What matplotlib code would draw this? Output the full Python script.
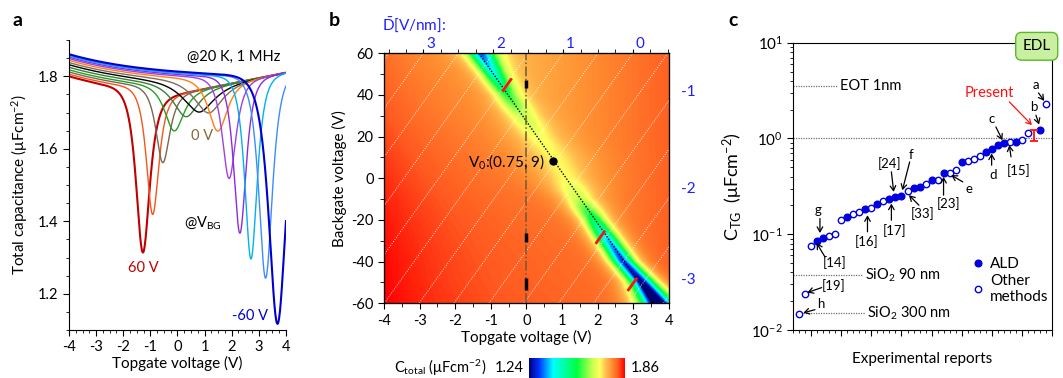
import numpy as np
import matplotlib
matplotlib.use('Agg')
import matplotlib.pyplot as plt
import matplotlib.transforms as mtransforms
from matplotlib.colors import LinearSegmentedColormap
from matplotlib.ticker import MultipleLocator, FixedLocator, NullFormatter, LogLocator
from matplotlib.lines import Line2D

plt.rcParams['font.family'] = ['Lato', 'DejaVu Sans']
plt.rcParams['mathtext.fontset'] = 'custom'
plt.rcParams['mathtext.rm'] = 'Lato'
plt.rcParams['mathtext.it'] = 'Lato:italic'
plt.rcParams['mathtext.bf'] = 'Lato:bold'
plt.rcParams['axes.unicode_minus'] = False

# ---- panel a : C-V curves, one per backgate voltage
vbg = [60, 50, 40, 30, 20, 10, 0, -10, -20, -30, -40, -50, -60]
dip_pos = [-1.28, -0.92, -0.55, -0.15, 0.25, 0.71, 1.08, 1.47, 1.90, 2.30, 2.71, 3.25, 3.69]
dip_min = [1.314, 1.419, 1.562, 1.650, 1.690, 1.703, 1.700, 1.649, 1.518, 1.367, 1.296, 1.243, 1.117]
c_left = [1.800, 1.806, 1.812, 1.818, 1.825, 1.832, 1.838, 1.844, 1.849, 1.853, 1.856, 1.858, 1.861]
dip_width = [0.22, 0.20, 0.22, 0.30, 0.40, 0.50, 0.45, 0.30, 0.22, 0.20, 0.20, 0.22, 0.28]
curve_colors = ['#c00000', '#f2561d', '#7a6652', '#22a022', '#3c7d3c', '#000000', '#7f6f5a',
                '#ff7f0e', '#a040e0', '#8a2be2', '#00b0f0', '#3d8bff', '#0000d0']

# ---- panel b : Dirac point line and marks
v0 = (0.75, 9)
dirac_slope = -24.5
d_slope = 23.9          # constant-D lines
d_top0 = 2.99           # topgate voltage where D=0 meets Vbg=60
d_step = 1.96           # topgate volts per 1 V/nm of D
mark_vt = [-0.545, 2.075, 2.975]
mark_vb = [44.8, -28.35, -51.0]
bar_lo = [43.1, -30.6, -53.8]
bar_hi = [47.0, -26.5, -48.1]
right_lbl_vb = [42.2, -4.3, -48.0]
right_lbl = ['-1', '-2', '-3']

# ---- panel c : capacitance of reports
rep_idx = list(range(0, 39)) + [40, 41]
rep_c = [0.0146, 0.024, 0.0755, 0.0845, 0.0908, 0.0953, 0.100, 0.140, 0.151, 0.162, 0.170,
         0.182, 0.188, 0.209, 0.221, 0.232, 0.242, 0.249, 0.281, 0.307, 0.312, 0.333, 0.372,
         0.372, 0.431, 0.441, 0.474, 0.565, 0.583, 0.608, 0.653, 0.719, 0.773, 0.865, 0.900,
         0.922, 0.922, 0.953, 1.145, 1.24, 2.28]
rep_ald = [0, 0, 0, 1, 1, 0, 0, 0, 1, 0, 0, 1, 0, 1, 0, 1, 1, 1, 0, 1, 1, 0, 1, 0, 1, 0, 0,
           1, 0, 0, 0, 1, 1, 1, 1, 0, 1, 0, 0, 1, 0]
present_idx = 39
present_lo, present_hi = 0.93, 1.24
ref_lines = [(3.52, 'EOT 1nm', -1, 6.4), (0.0373, 'SiO$_2$ 90 nm', -1, 10.6),
             (0.01506, 'SiO$_2$ 300 nm', 0.6, 10.9)]
notes = [
    ('g', (3.05, 0.178), (3.43, 0.146), (3.43, 0.103)),
    ('[14]', (5.92, 0.050), (4.26, 0.058), (2.88, 0.081)),
    ('[16]', (11.18, 0.0845), (11.34, 0.106), (11.34, 0.158)),
    ('[17]', (15.87, 0.108), (15.32, 0.14), (15.32, 0.209)),
    ('[24]', (15.04, 0.548), (15.32, 0.448), (15.7, 0.277)),
    ('f', (18.64, 0.669), (18.36, 0.569), (17.15, 0.288)),
    ('[33]', (20.56, 0.164), (19.9, 0.201), (18.24, 0.256)),
    ('[23]', (24.83, 0.209), (24.0, 0.256), (24.0, 0.397)),
    ('e', (28.31, 0.30), (27.2, 0.352), (25.27, 0.414)),
    ('d', (32.29, 0.414), (32.0, 0.526), (32.0, 0.697)),
    ('[15]', (36.48, 0.467), (35.22, 0.643), (34.94, 0.851)),
    ('c', (32.07, 1.58), (32.7, 1.32), (33.8, 0.96)),
    ('b', (39.09, 2.11), (39.37, 1.75), (39.9, 1.40)),
    ('a', (39.37, 3.61), (39.8, 2.99), (40.75, 2.47)),
    ('[19]', (5.64, 0.0293), (3.71, 0.0277), (1.33, 0.0246)),
    ('h', (3.5, 0.0189), (2.6, 0.0163), (0.66, 0.0151)),
]


def cap_curve(vt, x0, cmin, cl, w):
    # baseline: hole side / electron side joined at the dip, plus a dip of read depth
    right = 1.735 + 0.015 * (vt + 1)
    left = cl - 0.065 * (1 - np.exp(-(vt + 4) / 3))
    s = 1 / (1 + np.exp(-(vt - x0) / 0.12))
    base = left * (1 - s) + right * s
    b0 = (cl - 0.065 * (1 - np.exp(-(x0 + 4) / 3)) + 1.735 + 0.015 * (x0 + 1)) / 2
    return base - (b0 - cmin) / np.cosh((vt - x0) / w)


fig = plt.figure(figsize=(10.63, 3.78), dpi=100)

# ================= panel a
axa = fig.add_axes([0.0649, 0.127, 0.2041, 0.767])
vt = np.linspace(-4, 4, 800)
for i in range(len(vbg)):
    lw = 1.5 if i in (0, len(vbg) - 1) else 1.0
    axa.plot(vt, cap_curve(vt, dip_pos[i], dip_min[i], c_left[i], dip_width[i]),
             color=curve_colors[i], lw=lw)
axa.set_xlim(-4, 4)
axa.set_ylim(1.1, 1.9)
axa.xaxis.set_major_locator(MultipleLocator(1))
axa.xaxis.set_minor_locator(MultipleLocator(0.25))
axa.yaxis.set_major_locator(FixedLocator([1.2, 1.4, 1.6, 1.8]))
axa.yaxis.set_minor_locator(MultipleLocator(0.05))
axa.spines['top'].set_visible(False)
axa.spines['right'].set_visible(False)
axa.tick_params(labelsize=10.5, length=4)
axa.tick_params(which='minor', length=2)
axa.set_xlabel('Topgate voltage (V)', fontsize=11, labelpad=1)
axa.set_ylabel('Total capacitance (μFcm$^{-2}$)', fontsize=11)
axa.yaxis.set_label_coords(-0.18, 0.5)
axa.text(2.06, 1.855, '@20 K, 1 MHz', fontsize=10.5, ha='center', va='center')
axa.text(-1.27, 1.272, '60 V', fontsize=10.5, color='#c00000', ha='center', va='center')
axa.text(2.67, 1.138, '-60 V', fontsize=10.5, color='#0000d0', ha='center', va='center')
axa.text(0.92, 1.635, '0 V', fontsize=10.5, color='#7f6a3a', ha='center', va='center')
axa.text(0.95, 1.397, '@V$_{\\rm BG}$', fontsize=10.5, ha='center', va='center')

# ================= panel b
axb = fig.add_axes([0.3612, 0.198, 0.268, 0.661])
cmap = LinearSegmentedColormap.from_list('ctot', [
    (0.0, '#00007a'), (0.1, '#0030ff'), (0.25, '#00ffff'), (0.5, '#00ff40'),
    (0.66, '#c8ff50'), (0.74, '#ffff60'), (0.8, '#ffc050'), (0.86, '#ff9434'),
    (0.93, '#ff5a20'), (1.0, '#ff0000')])
gx = np.linspace(-4, 4, 500)
gy = np.linspace(-60, 60, 300)
rv = vbg[::-1]
rows = []
for vb in gy:
    rows.append(cap_curve(gx, np.interp(vb, rv, dip_pos[::-1]), np.interp(vb, rv, dip_min[::-1]),
                          np.interp(vb, rv, c_left[::-1]), np.interp(vb, rv, dip_width[::-1])))
axb.imshow(np.array(rows), extent=[-4, 4, -60, 60], origin='lower', aspect='auto',
           cmap=cmap, vmin=1.24, vmax=1.86, interpolation='bilinear')
# constant-D lines every 0.5 V/nm
for k in range(-6, 12):
    top = d_top0 - d_step * 0.5 * k
    axb.plot([top - 120 / d_slope, top], [-60, 60], color='white', ls=(0, (1, 1.5)), lw=0.7, alpha=0.85)
# Dirac line
axb.plot([v0[0] + (60 - v0[1]) / dirac_slope, v0[0] + (-60 - v0[1]) / dirac_slope], [60, -60],
         color='black', ls=(0, (1, 1.2)), lw=1.0)
axb.plot([v0[0]], [v0[1] - 0.5], 'o', color='black', ms=5)
axb.text(0.5, 7.8, 'V$_0$:(0.75, 9)', fontsize=11, ha='right', va='center')
axb.axvline(0, color='#6b5a3a', ls='-.', lw=1.1)
axb.vlines([0] * len(bar_lo), bar_lo, bar_hi, color='black', lw=2.5)
for mx, my in zip(mark_vt, mark_vb):
    axb.plot([mx - 0.11, mx + 0.11], [my - 0.11 * d_slope, my + 0.11 * d_slope], color='#ff1010', lw=2)
axb.set_xlim(-4, 4)
axb.set_ylim(-60, 60)
axb.xaxis.set_major_locator(MultipleLocator(1))
axb.xaxis.set_minor_locator(MultipleLocator(0.5))
axb.yaxis.set_major_locator(MultipleLocator(20))
axb.yaxis.set_minor_locator(MultipleLocator(10))
axb.tick_params(labelsize=10.5, length=4, right=True)
axb.tick_params(which='minor', length=3, right=True)
axb.set_xlabel('Topgate voltage (V)', fontsize=11, labelpad=2)
axb.set_ylabel('Backgate voltage (V)', fontsize=11)
axb.yaxis.set_label_coords(-0.131, 0.5)

axt = axb.twiny()
axt.set_xlim(-4, 4)
axt.set_xticks([d_top0 - d_step * d for d in [3, 2, 1, 0]])
axt.set_xticklabels(['3', '2', '1', '0'], color='#1f1fff', fontsize=11)
axt.xaxis.set_minor_locator(FixedLocator([d_top0 - d_step * 0.25 * k for k in range(-4, 17)]))
axt.tick_params(length=3, pad=0)
axt.tick_params(which='minor', length=3)
shift = mtransforms.ScaledTranslation(0.07, -0.02, fig.dpi_scale_trans)
for lab in axt.get_xticklabels():
    lab.set_transform(lab.get_transform() + shift)

axr = axb.twinx()
axr.set_ylim(-60, 60)
axr.set_yticks(right_lbl_vb)
axr.set_yticklabels(right_lbl, color='#1f1fff', fontsize=11)
axr.tick_params(length=0, pad=9)
fig.text(0.359, 1 - 25 / 378, '$\\bar{\\rm D}$[V/nm]:', color='#1f1fff', fontsize=11, va='center')

cax = fig.add_axes([0.4977, 0.0, 0.0903, 0.054])
cax.imshow(np.linspace(0, 1, 256)[None, :], cmap=cmap, aspect='auto', extent=[0, 1, 0, 1])
cax.set_xticks([])
cax.set_yticks([])
for sp in cax.spines.values():
    sp.set_visible(False)
fig.text(486.7 / 1063, 1 - 368 / 378, 'C$_{\\rm total}$ (μFcm$^{-2}$)', fontsize=10.5, ha='right', va='center')
fig.text(524 / 1063, 1 - 368 / 378, '1.24', fontsize=10.5, ha='right', va='center')
fig.text(631 / 1063, 1 - 368 / 378, '1.86', fontsize=10.5, ha='left', va='center')

# ================= panel c
axc = fig.add_axes([0.7463, 0.127, 0.2431, 0.760])
axc.set_yscale('log')
axc.set_xlim(-1, 42)
axc.set_ylim(0.01, 10)
blue = '#0000e0'
for yv, lbl, xs, xe in ref_lines:
    axc.plot([xs, xe], [yv, yv], color='#707070', ls=(0, (1, 1)), lw=0.9)
    axc.text(xe + 0.4, yv, lbl, fontsize=10.5, va='center', ha='left')
axc.axhline(1.0, color='#707070', ls=(0, (1, 1)), lw=0.9)
xi = np.array(rep_idx)
yc = np.array(rep_c)
ald = np.array(rep_ald) == 1
axc.plot(xi[~ald], yc[~ald], 'o', ms=4.6, mfc='white', mec=blue, mew=1.0, ls='none')
axc.plot(xi[ald], yc[ald], 'o', ms=4.8, mfc=blue, mec=blue, ls='none')
yc_mid = np.sqrt(present_lo * present_hi)
axc.errorbar([present_idx], [yc_mid], yerr=[[yc_mid - present_lo], [present_hi - yc_mid]],
             fmt='none', ecolor='#ff1010', elinewidth=1.3, capsize=3, capthick=1.3)
for lbl, tpos, tail, tip in notes:
    axc.annotate('', xy=tip, xytext=tail,
                 arrowprops=dict(arrowstyle='->,head_length=0.35,head_width=0.2', lw=0.9,
                                 color='black', shrinkA=0, shrinkB=0))
    axc.text(tpos[0], tpos[1], lbl, fontsize=9.5, ha='center', va='center')
axc.annotate('', xy=(38.7, 1.38), xytext=(34.94, 2.41),
             arrowprops=dict(arrowstyle='->,head_length=0.35,head_width=0.2', lw=0.9,
                             color='#ff1010', shrinkA=0, shrinkB=0))
axc.text(31.6, 2.99, 'Present', color='#ff1010', fontsize=10.5, ha='center', va='center')
axc.xaxis.set_major_locator(FixedLocator(list(range(-3, 43, 5))))
axc.xaxis.set_minor_locator(MultipleLocator(1))
axc.xaxis.set_major_formatter(NullFormatter())
axc.yaxis.set_major_locator(LogLocator(base=10, numticks=10))
axc.yaxis.set_minor_locator(LogLocator(base=10, subs=np.arange(2, 10), numticks=10))
axc.yaxis.set_minor_formatter(NullFormatter())
axc.tick_params(labelsize=11, length=4)
axc.tick_params(which='minor', length=2.5)
axc.set_xlabel('Experimental reports', fontsize=11, labelpad=8)
axc.set_ylabel('C$_{\\rm TG}$  (μFcm$^{-2}$)', fontsize=13)
axc.yaxis.set_label_coords(-0.187, 0.5)
hd = [Line2D([], [], marker='o', ls='none', ms=4.8, mfc=blue, mec=blue),
      Line2D([], [], marker='o', ls='none', ms=4.6, mfc='white', mec=blue, mew=1.0)]
axc.legend(hd, ['ALD', 'Other\nmethods'], loc='upper left', bbox_to_anchor=(0.66, 0.275),
           frameon=False, fontsize=11, handletextpad=0.3, labelspacing=0.2, handlelength=1.0,
           borderaxespad=0)
fig.text(1036.7 / 1063, 1 - 46.3 / 378, 'EDL', fontsize=11, ha='center', va='center',
         bbox=dict(boxstyle='round,pad=0.45,rounding_size=0.4', fc='#c8f0a0', ec='#5cb82e', lw=1))

# panel letters
fig.text(17.5 / 1063, 1 - 21 / 378, 'a', fontsize=14, fontweight='bold', ha='center', va='center')
fig.text(334 / 1063, 1 - 21 / 378, 'b', fontsize=14, fontweight='bold', ha='center', va='center')
fig.text(733 / 1063, 1 - 21 / 378, 'c', fontsize=14, fontweight='bold', ha='center', va='center')

fig.savefig('out.png', dpi=100)
